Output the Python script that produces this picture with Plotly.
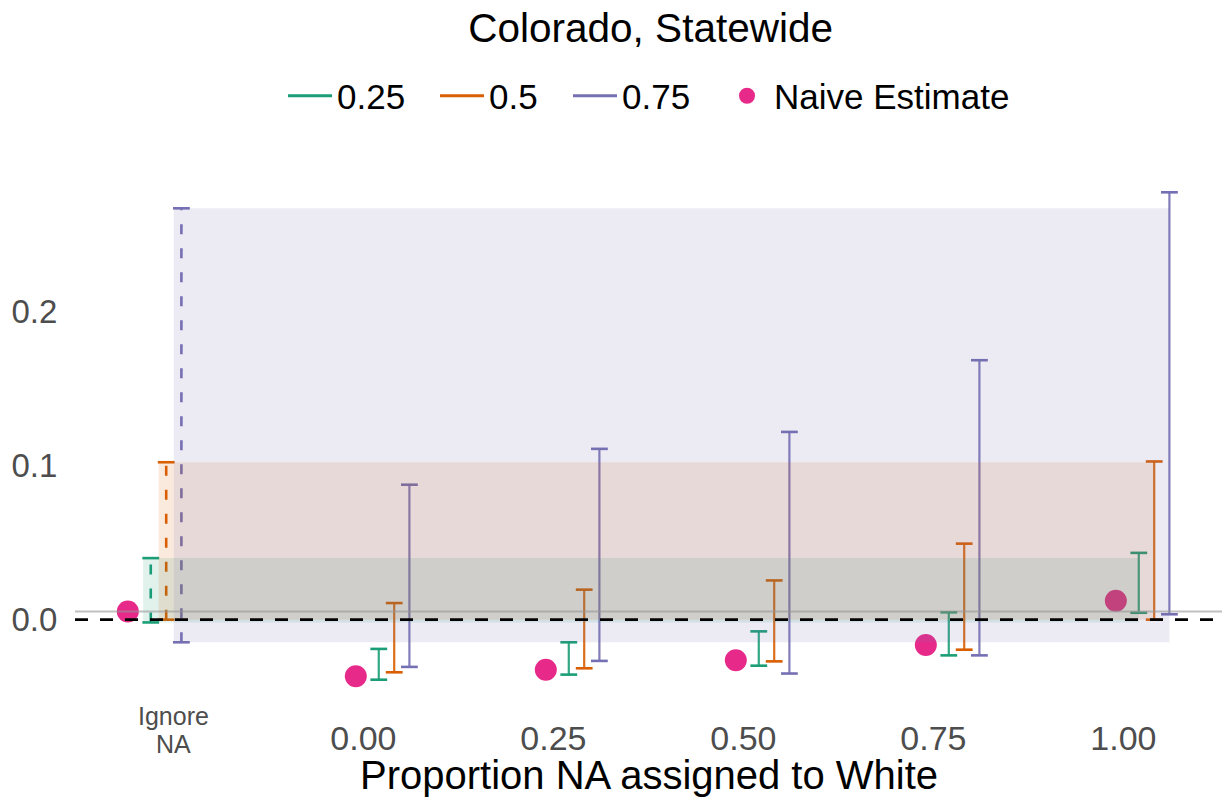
import plotly.graph_objects as go

# ---------------- data ----------------
group_labels = ["Ignore NA", "0.00", "0.25", "0.50", "0.75", "1.00"]
group_x = [-0.30, 0.00, 0.25, 0.50, 0.75, 1.00]
tick_vals = [0.00, 0.25, 0.50, 0.75, 1.00]
tick_text = ["0.00", "0.25", "0.50", "0.75", "1.00"]
ignore_label_x = -0.25

naive = [0.0053, -0.0368, -0.0325, -0.0264, -0.0164, 0.0123]

levels = ["0.25", "0.5", "0.75"]
lo_025 = [-0.0018, -0.0390, -0.0357, -0.0299, -0.0232, 0.0045]
hi_025 = [0.0400, -0.0190, -0.0147, -0.0076, 0.0048, 0.0434]
lo_050 = [0.0000, -0.0342, -0.0316, -0.0271, -0.0195, 0.0000]
hi_050 = [0.1023, 0.0108, 0.0195, 0.0255, 0.0494, 0.1028]
lo_075 = [-0.0147, -0.0307, -0.0268, -0.0350, -0.0232, 0.0035]
hi_075 = [0.2673, 0.0877, 0.1110, 0.1220, 0.1686, 0.2777]

y_ticks = [0.0, 0.1, 0.2]
y_tick_text = ["0.0", "0.1", "0.2"]

# ---------------- style ----------------
colors = ["#1B9E77", "#D95F02", "#7570B3"]
band_fill = ["rgba(27,158,119,0.13)", "rgba(217,95,2,0.13)", "rgba(117,112,179,0.14)"]
naive_color = "#E7298A"
dodge_naive = -0.010
dodge = [0.0202, 0.0405, 0.0605]
FONT = "Liberation Sans, Arial, Helvetica, sans-serif"
TICK_GREY = "#4D4D4D"
legend_left_px = [283, 435, 568, 720]

lows = [lo_025, lo_050, lo_075]
highs = [hi_025, hi_050, hi_075]

fig = go.Figure()

# naive estimates
fig.add_trace(go.Scatter(
    x=[gx + dodge_naive for gx in group_x], y=naive, mode="markers",
    marker=dict(color=naive_color, size=22, line=dict(width=0)),
    showlegend=False, hoverinfo="skip"))

for k in range(3):
    c = colors[k]
    lo, hi = lows[k], highs[k]
    xs = [gx + dodge[k] for gx in group_x]
    # Ignore NA interval: dashed
    fig.add_trace(go.Scatter(
        x=[xs[0], xs[0]], y=[lo[0], hi[0]], mode="lines",
        line=dict(color=c, width=2.6, dash="10px,14px"),
        showlegend=False, hoverinfo="skip"))
    # other intervals: solid
    sx, sy = [], []
    for i in range(1, len(xs)):
        sx += [xs[i], xs[i], None]
        sy += [lo[i], hi[i], None]
    fig.add_trace(go.Scatter(
        x=sx, y=sy, mode="lines", line=dict(color=c, width=2.2),
        opacity=0.9, showlegend=False, hoverinfo="skip"))
    # caps
    fig.add_trace(go.Scatter(
        x=xs + xs, y=lo + hi, mode="markers",
        marker=dict(symbol="line-ew", size=12, color=c,
                    line=dict(color=c, width=2.6)),
        showlegend=False, hoverinfo="skip"))

# bands (ignore-NA intervals carried across), drawn above marks
for k in range(3):
    x_start = group_x[0] + dodge[k] - 0.010
    x_end = group_x[-1] + dodge[k]
    fig.add_shape(type="rect", xref="x", yref="y",
                  x0=x_start, x1=x_end, y0=lows[k][0], y1=highs[k][0],
                  fillcolor=band_fill[k], line=dict(width=0), layer="above")

# reference lines
fig.add_shape(type="line", xref="paper", yref="y", x0=0, x1=1,
              y0=naive[0], y1=naive[0],
              line=dict(color="rgba(150,150,150,0.6)", width=2), layer="above")
fig.add_shape(type="line", xref="paper", yref="y", x0=0, x1=1, y0=0, y1=0,
              line=dict(color="black", width=2.6, dash="13px,12px"), layer="above")

# legend-only traces, one legend box per entry for exact placement
legend_ids = ["legend", "legend2", "legend3", "legend4"]
for k in range(3):
    fig.add_trace(go.Scatter(x=[None], y=[None], mode="lines", name=levels[k],
                             line=dict(color=colors[k], width=3), legend=legend_ids[k]))
fig.add_trace(go.Scatter(x=[None], y=[None], mode="markers", name="Naive Estimate",
                         marker=dict(color=naive_color, size=21), legend=legend_ids[3]))

# Ignore NA label (two lines, tight spacing like the reference)
fig.add_annotation(x=ignore_label_x, xref="x", y=-0.022, yref="paper",
                   text="Ignore", showarrow=False, yanchor="middle",
                   font=dict(family=FONT, size=25, color=TICK_GREY))
fig.add_annotation(x=ignore_label_x, xref="x", y=-0.075, yref="paper",
                   text="NA", showarrow=False, yanchor="middle",
                   font=dict(family=FONT, size=25, color=TICK_GREY))
# x axis title
fig.add_annotation(x=0.5, xref="paper", y=-0.132, yref="paper",
                   text="Proportion NA assigned to White", showarrow=False,
                   yanchor="middle", font=dict(family=FONT, size=40, color="black"))

legend_common = dict(orientation="h", xanchor="left", xref="container",
                     y=0.88, yanchor="middle", yref="container",
                     font=dict(family=FONT, size=35, color="black"),
                     itemwidth=44, tracegroupgap=0, bgcolor="rgba(0,0,0,0)")
legends = {lid: dict(x=px / 1223, **legend_common)
           for lid, px in zip(legend_ids, legend_left_px)}

fig.update_layout(
    width=1223, height=800,
    paper_bgcolor="white", plot_bgcolor="white",
    margin=dict(l=75, r=1, t=168, b=96),
    font=dict(family=FONT, color="black"),
    title=dict(text="Colorado, Statewide", x=0.532, xanchor="center",
               y=0.965, yanchor="middle", yref="container",
               font=dict(family=FONT, size=40.5, color="black")),
    xaxis=dict(range=[-0.3795, 1.1297], tickvals=tick_vals, ticktext=tick_text,
               showgrid=False, zeroline=False, showline=False,
               ticks="outside", ticklen=4, tickcolor="rgba(0,0,0,0)",
               tickfont=dict(family=FONT, size=34, color=TICK_GREY),
               automargin=False, fixedrange=True),
    yaxis=dict(range=[-0.0548, 0.2935], tickvals=y_ticks, ticktext=y_tick_text,
               showgrid=False, zeroline=False, showline=False,
               ticks="outside", ticklen=10, tickcolor="rgba(0,0,0,0)",
               tickfont=dict(family=FONT, size=33, color=TICK_GREY),
               automargin=False, fixedrange=True),
    showlegend=True,
    **legends,
)

fig.write_html("out.html", config={"displayModeBar": False},
               post_script="document.body.style.margin='0px';")
